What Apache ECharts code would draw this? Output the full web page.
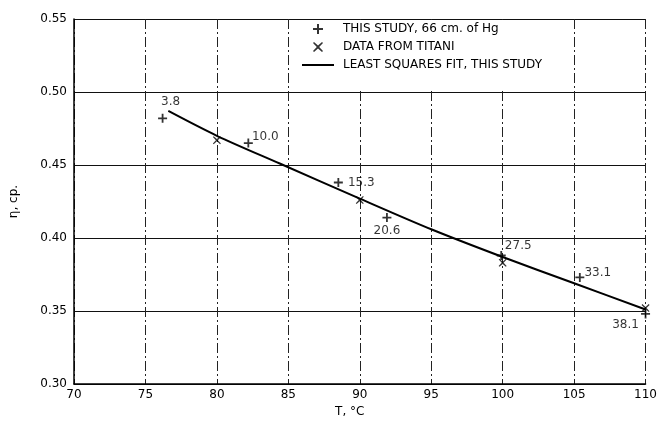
<!DOCTYPE html>
<html>
<head>
<meta charset="utf-8">
<script src="https://cdn.jsdelivr.net/npm/echarts@6/dist/echarts.min.js"></script>
<style>
  html, body { margin: 0; padding: 0; background: #fff; }
  #chart { width: 660px; height: 423px; }
</style>
</head>
<body>
<div id="chart"></div>
<script>
// this study, 66 cm of Hg (+ marks) with their labels
const studyT = [76.2, 82.2, 88.5, 91.9, 99.9, 105.4, 110.0];
const studyEta = [0.482, 0.465, 0.438, 0.414, 0.388, 0.373, 0.348];
const studyLabels = ['3.8', '10.0', '15.3', '20.6', '27.5', '33.1', '38.1'];

// data from Titani (x marks)
const titaniT = [80, 90, 100, 110];
const titaniEta = [0.467, 0.426, 0.383, 0.352];

// least squares fit, this study
const fitT = [76.6, 80, 84.4, 90, 95, 100, 105, 110];
const fitEta = [0.487, 0.470, 0.451, 0.427, 0.406, 0.387, 0.369, 0.351];

const xTicks = [70, 75, 80, 85, 90, 95, 100, 105, 110];

// label placement around each + mark (pixels)
const labelOffsets = [[8, -16], [17, -6], [23, 0], [0, 13], [17, -10], [18, -5], [-20, 11]];

const ink = '#000';
const font = 'DejaVu Sans';
const plusIcon = 'path://M4,0 H6 V4 H10 V6 H6 V10 H4 V6 H0 V4 H4 Z';
const crossIcon = 'path://M1,0 L5,3.6 L9,0 L10,1 L6.2,5 L10,9 L9,10 L5,6.4 L1,10 L0,9 L3.8,5 L0,1 Z';
const lineIcon = 'path://M0,0 H32 V2 H0 Z';

const chart = echarts.init(document.getElementById('chart'));

chart.setOption({
  animation: false,
  backgroundColor: '#fff',
  textStyle: { fontFamily: font, color: ink },
  grid: { left: 72, right: 12, top: 19, bottom: 38 },
  legend: {
    orient: 'vertical',
    left: 298,
    top: 20,
    padding: [3, 30, 20, 4],
    backgroundColor: '#fff',
    itemWidth: 32,
    itemHeight: 10,
    itemGap: 6,
    z: 10,
    textStyle: { fontFamily: font, fontSize: 12, color: ink, padding: [0, 0, 0, 4] },
    data: [
      { name: 'THIS STUDY, 66 cm. of Hg', icon: plusIcon },
      { name: 'DATA FROM TITANI', icon: crossIcon },
      { name: 'LEAST SQUARES FIT, THIS STUDY', icon: lineIcon }
    ]
  },
  xAxis: {
    type: 'value',
    min: 70,
    max: 110,
    interval: 5,
    name: 'T, °C',
    nameLocation: 'middle',
    nameGap: 22,
    nameTextStyle: { fontSize: 12, color: ink, padding: [0, 20, 0, 0] },
    axisLine: { lineStyle: { color: ink, width: 1.5 } },
    axisTick: { show: false },
    axisLabel: {
      fontSize: 12, color: ink, margin: 5,
      formatter: v => (xTicks.indexOf(v) >= 0 ? String(v) : '')
    },
    splitLine: { show: true, lineStyle: { color: '#222', width: 1, type: [10, 3, 2, 3] } }
  },
  yAxis: {
    type: 'value',
    min: 0.30,
    max: 0.55,
    interval: 0.05,
    name: 'η, cp.',
    nameLocation: 'middle',
    nameGap: 54,
    nameTextStyle: { fontSize: 12, color: ink },
    axisLine: { show: true, lineStyle: { color: ink, width: 1.5 } },
    axisTick: { show: false },
    axisLabel: { fontSize: 12, color: ink, margin: 7, formatter: v => v.toFixed(2) },
    splitLine: { show: true, lineStyle: { color: '#111', width: 1.2 } }
  },
  series: [
    {
      name: 'THIS STUDY, 66 cm. of Hg',
      type: 'scatter',
      symbol: plusIcon,
      symbolSize: 9,
      itemStyle: { color: ink },
      z: 5,
      label: {
        show: true,
        position: 'inside',
        fontFamily: font,
        fontSize: 12,
        color: ink
      },
      data: studyT.map((t, i) => ({
        value: [t, studyEta[i]],
        label: { formatter: studyLabels[i], offset: labelOffsets[i] }
      }))
    },
    {
      name: 'DATA FROM TITANI',
      type: 'scatter',
      symbol: crossIcon,
      symbolSize: 8,
      itemStyle: { color: ink },
      z: 5,
      data: titaniT.map((t, i) => [t, titaniEta[i]])
    },
    {
      name: 'LEAST SQUARES FIT, THIS STUDY',
      type: 'line',
      smooth: 0.3,
      showSymbol: false,
      symbol: 'none',
      lineStyle: { color: ink, width: 2 },
      itemStyle: { color: ink },
      z: 4,
      data: fitT.map((t, i) => [t, fitEta[i]])
    }
  ]
});
</script>
</body>
</html>
